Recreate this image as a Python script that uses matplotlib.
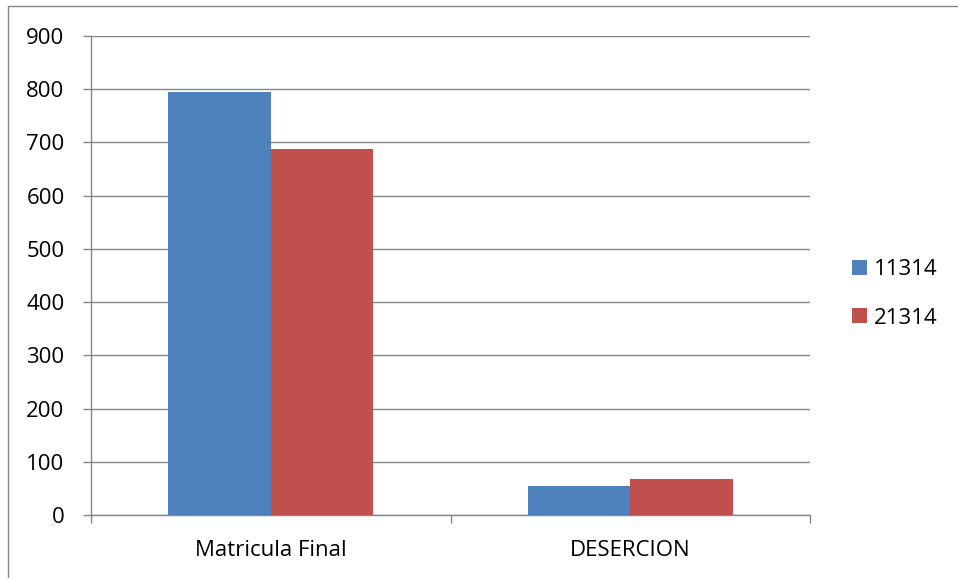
import matplotlib.pyplot as plt
from matplotlib.patches import Patch, Rectangle
import numpy as np

plt.rcParams['font.family'] = ['Open Sans', 'DejaVu Sans']

categories = ['Matricula Final', 'DESERCION']
series_names = ['11314', '21314']
values_11314 = [794, 54]
values_21314 = [687, 67]
y_ticks = [0, 100, 200, 300, 400, 500, 600, 700, 800, 900]

COLORS = ['#4F81BD', '#C0504D']
GRID = '#868686'
FS = 16

fig = plt.figure(figsize=(9.58, 5.78), dpi=100)
# outer chart frame (only left and top visible in the crop)
fig.patches.append(Rectangle((8/958, -0.1), 1.2, 1 - 6/578 + 0.1, transform=fig.transFigure,
                             fill=False, edgecolor=GRID, linewidth=1.0))
ax = fig.add_axes([91/958, 1 - 515/578, (810 - 91)/958, (515 - 36)/578])

x = np.arange(len(categories))
w = 0.285
ax.bar(x - w/2, values_11314, w, color=COLORS[0], edgecolor='none', zorder=3)
ax.bar(x + w/2, values_21314, w, color=COLORS[1], edgecolor='none', zorder=3)

ax.set_xlim(-0.5, len(categories) - 0.5)
ax.set_ylim(0, 900)
ax.set_yticks(y_ticks)
ax.set_yticklabels([str(t) for t in y_ticks], fontsize=FS)
ax.yaxis.grid(True, color=GRID, linewidth=1.0, zorder=0)
ax.tick_params(axis='y', length=6, width=1.0, color=GRID, pad=13)

ax.set_xticks(np.arange(-0.5, len(categories), 1.0))
ax.set_xticklabels([])
ax.tick_params(axis='x', which='major', length=6, width=1.0, color=GRID)
ax.set_xticks(x, minor=True)
ax.set_xticklabels(categories, minor=True, fontsize=FS)
ax.tick_params(axis='x', which='minor', length=0, pad=18)

for s in ['top', 'right']:
    ax.spines[s].set_visible(False)
for s in ['left', 'bottom']:
    ax.spines[s].set_color(GRID)
    ax.spines[s].set_linewidth(1.0)

handles = [Patch(facecolor=c, edgecolor='none') for c in COLORS]
fig.legend(handles, series_names, loc='center left', bbox_to_anchor=(832/958, 1 - 294/578),
           frameon=False, fontsize=FS, handlelength=0.68, handleheight=0.68,
           handletextpad=0.3, labelspacing=1.22)

plt.savefig('out.png', dpi=100)
